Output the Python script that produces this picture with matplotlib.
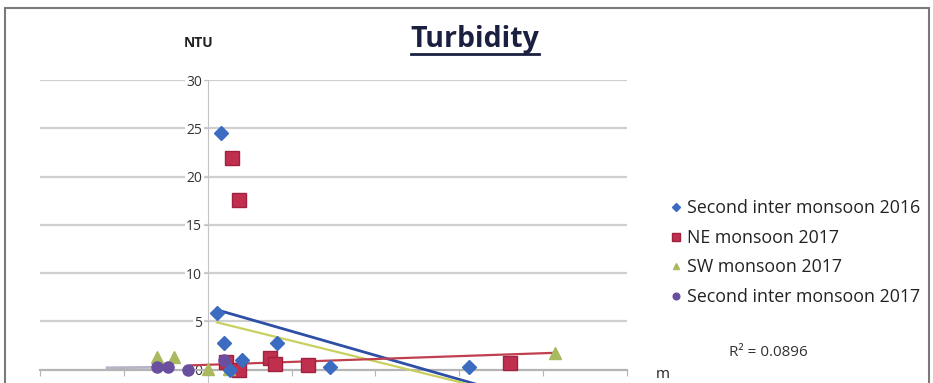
import matplotlib
matplotlib.use('Agg')
import matplotlib.pyplot as plt
from matplotlib.patches import Rectangle
from matplotlib.lines import Line2D

plt.rcParams['font.family'] = ['Open Sans', 'DejaVu Sans']

# Turbidity readings (NTU) against distance (m), one array pair per season
SIM16_X = [0.11, 0.16, 0.19, 0.27, 0.41, 0.83, 1.46, 3.12]
SIM16_Y = [5.9, 24.5, 2.8, 0.0, 1.0, 2.8, 0.3, 0.3]
NE17_X = [0.22, 0.29, 0.37, 0.37, 0.74, 0.80, 1.19, 3.60]
NE17_Y = [0.8, 21.9, 17.6, 0.0, 1.2, 0.6, 0.5, 0.7]
SW17_X = [-0.61, -0.40, 0.00, 0.25, 4.14]
SW17_Y = [1.3, 1.3, 0.1, 0.1, 1.7]
SIM17_X = [-0.61, -0.47, -0.23, 0.20]
SIM17_Y = [0.3, 0.3, 0.0, 1.0]

# linear trend lines (end points)
TREND_SIM16 = ([0.11, 3.2], [6.2, -1.5])
TREND_SW17 = ([0.11, 3.2], [4.9, -1.7])
TREND_NE17 = ([-0.2, 4.14], [0.45, 1.75])
TREND_SIM17 = ([-1.2, -0.6], [0.2, 0.25])

LABELS = ['Second inter monsoon 2016', 'NE monsoon 2017',
          'SW monsoon 2017', 'Second inter monsoon 2017']
YTICKS = [0, 5, 10, 15, 20, 25, 30]
XTICKS = [-2, -1, 0, 1, 2, 3, 4, 5]
R2_TEXT = 'R² = 0.0896'

BLUE, RED, GREEN, PURPLE = '#3b6cc2', '#c0304e', '#a9b95e', '#6a4f9e'

W, H = 933, 383
fig = plt.figure(figsize=(W / 100, H / 100), dpi=100)
ax = fig.add_axes([40 / W, (H - 418) / H, 587 / W, 338 / H])
ax.set_xlim(-2, 5)
ax.set_ylim(-5, 30)

# trend lines
ax.plot(*TREND_SIM16, color='#2d4fa6', lw=2, zorder=3)
ax.plot(*TREND_SW17, color='#c9d060', lw=1.6, zorder=3)
ax.plot(*TREND_NE17, color='#c0404f', lw=1.6, zorder=3)
ax.plot(*TREND_SIM17, color='#b9b3c9', lw=2, zorder=3)

# series markers
ax.plot(NE17_X, NE17_Y, 's', ms=10, color=RED, mec='#a02040', ls='none', label=LABELS[1], zorder=4)
ax.plot(SW17_X, SW17_Y, '^', ms=8, color=GREEN, ls='none', label=LABELS[2], zorder=4)
ax.plot(SIM16_X, SIM16_Y, 'D', ms=7, color=BLUE, ls='none', label=LABELS[0], zorder=5)
ax.plot(SIM17_X, SIM17_Y, 'o', ms=8, color=PURPLE, ls='none', label=LABELS[3], zorder=5)

# axes cross at the origin
for side in ['top', 'right']:
    ax.spines[side].set_visible(False)
ax.spines['left'].set_position(('data', 0))
ax.spines['bottom'].set_position(('data', 0))
ax.spines['left'].set_color('#c4c4c4')
ax.spines['bottom'].set_color('#b4b4b4')
ax.spines['bottom'].set_linewidth(1.5)

ax.set_yticks(YTICKS)
ax.set_xticks(XTICKS)
ax.set_xticklabels([])
ax.tick_params(axis='x', direction='out', length=4, color='#b4b4b4')
ax.tick_params(axis='y', length=3, color='#c4c4c4', labelsize=10, labelcolor='#333333', pad=1)
for lbl in ax.get_yticklabels():
    lbl.set_bbox(dict(facecolor='white', edgecolor='none', pad=1))
ax.yaxis.grid(True, color='#cfcfcf', lw=1.6)
ax.set_axisbelow(True)

# legend, ordered as the series are listed
handles, labels = ax.get_legend_handles_labels()
order = [labels.index(l) for l in LABELS]
fig.legend([handles[i] for i in order], LABELS, loc='upper left',
           bbox_to_anchor=(655 / W, 1 - 183 / H), frameon=False,
           markerscale=0.6, handlelength=0.6, handletextpad=0.3,
           labelspacing=0.66, fontsize=12.8, labelcolor='#222222')

fig.text(768 / W, 1 - 353 / H, R2_TEXT, ha='center', va='center', fontsize=11, color='#333333')
fig.text(656 / W, 1 - 375 / H, 'm', ha='left', va='center', fontsize=11, color='#222222')
fig.text(199 / W, 1 - 43 / H, 'NTU', ha='center', va='center', fontsize=10,
         fontweight='bold', color='#222222')

title = fig.text(475 / W, 1 - 40 / H, 'Turbidity', ha='center', va='center',
                 fontsize=20.5, fontweight='bold', color='#1b2040')
fig.canvas.draw()
bb = title.get_window_extent()
fig.add_artist(Line2D([bb.x0 / W, bb.x1 / W], [(H - 54) / H] * 2,
                      color='#1b2040', lw=2, transform=fig.transFigure))

# outer chart frame
fig.add_artist(Rectangle((5 / W, -0.1), 924 / W, 0.1 + (H - 8) / H, fill=False,
                         edgecolor='#7a7a7a', lw=1.5, transform=fig.transFigure))

fig.savefig('out.png', dpi=100)
